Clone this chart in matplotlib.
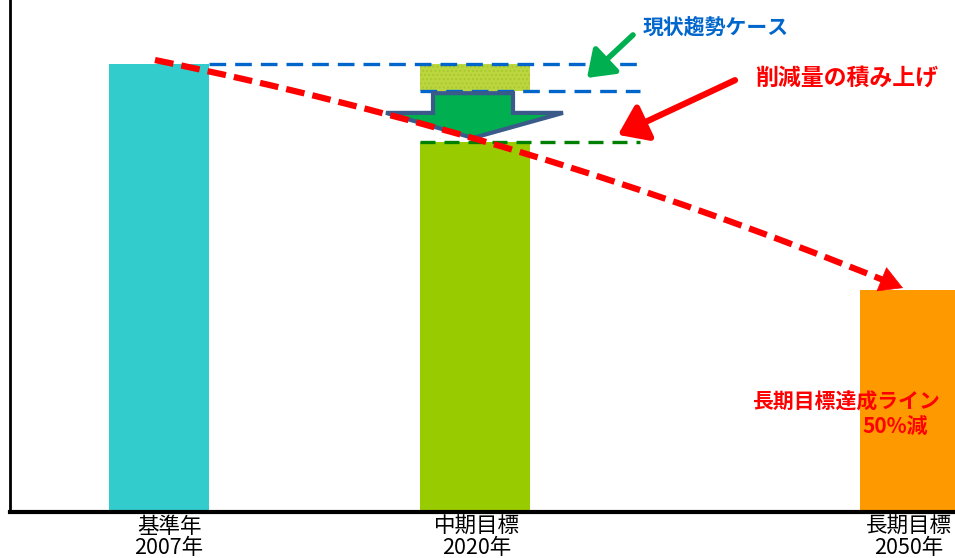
import matplotlib
matplotlib.use("Agg")
import matplotlib.pyplot as plt
from matplotlib.patches import Rectangle, Polygon, PathPatch
from matplotlib.path import Path

plt.rcParams['font.family'] = ['Noto Sans CJK JP', 'DejaVu Sans']

# ---- data ----
categories = ["基準年\n2007年", "中期目標\n2020年", "長期目標\n2050年"]
values = [100.0, 82.6, 49.6]          # emissions index (base = 100)
trend_high = 100.0                      # current-trend case band (top)
trend_low = 94.0                        # current-trend case band (bottom)
trajectory = [100.9, 79.5, 50.0]        # red dashed path: start, mid-bend, end

# ---- layout ----
x_pos = [1.49, 4.65, 9.05]
widths = [1.0, 1.1, 1.1]
colors = ["#33CCCC", "#99CC00", "#FF9900"]

fig = plt.figure(figsize=(9.55, 5.58), dpi=100)
ax = fig.add_axes([10/955, 46/558, 945/955, 512/558])
ax.set_xlim(0, 9.45)
ax.set_ylim(0, 114.3)

ax.bar(x_pos, values, width=widths, color=colors, zorder=2)

ax.set_xticks([1.59, 4.67, 8.99])
ax.set_xticklabels(categories, fontsize=15.5, linespacing=0.95)
ax.tick_params(axis='x', length=0, pad=3)
ax.set_yticks([])
for s in ['top', 'right']:
    ax.spines[s].set_visible(False)
ax.spines['left'].set_linewidth(2)
ax.spines['bottom'].set_linewidth(3)

# current-trend band (textured)
mid_x, mid_w = x_pos[1], widths[1]
band = Rectangle((mid_x - mid_w/2, trend_low), mid_w, trend_high - trend_low,
                 facecolor="#BCD640", edgecolor="#A9C92E", hatch="....",
                 linewidth=0, zorder=2)
ax.add_patch(band)

# dashed reference lines
blue = "#0066CC"
ax.plot([x_pos[0] + widths[0]/2, 6.30], [trend_high, trend_high], color=blue,
        lw=2.4, linestyle=(0, (5, 2.7)), zorder=3)
ax.plot([mid_x - mid_w/2, 6.30], [trend_low, trend_low], color=blue,
        lw=2.4, linestyle=(0, (5, 2.7)), zorder=3)
ax.plot([mid_x - mid_w/2, 6.30], [values[1], values[1]], color="#008000",
        lw=2.4, linestyle=(0, (4.5, 2.7)), zorder=3)

# block down arrow (reduction)
ax_c = 4.63
tip = values[1] + 0.9
head_base = tip + 5.6
top = trend_low - 0.5
arrow_pts = [(ax_c - 0.40, top), (ax_c + 0.40, top), (ax_c + 0.40, head_base),
             (ax_c + 0.90, head_base), (ax_c, tip), (ax_c - 0.87, head_base),
             (ax_c - 0.40, head_base)]
ax.add_patch(Polygon(arrow_pts, closed=True, facecolor="#00B050",
                     edgecolor="#3A5A8A", linewidth=3, zorder=4))

# red dashed trajectory curve (quadratic bezier)
S = (1.45, trajectory[0])
E = (8.93, trajectory[2])
M = (5.23, trajectory[1])
C = (2*M[0] - 0.5*(S[0] + E[0]), 2*M[1] - 0.5*(S[1] + E[1]))
t_end = 0.978
def bez(t):
    return ((1-t)**2*S[0] + 2*t*(1-t)*C[0] + t**2*E[0],
            (1-t)**2*S[1] + 2*t*(1-t)*C[1] + t**2*E[1])
C_sub = ((1-t_end)*S[0] + t_end*C[0], (1-t_end)*S[1] + t_end*C[1])
P_end = bez(t_end)
curve = Path([S, C_sub, P_end], [Path.MOVETO, Path.CURVE3, Path.CURVE3])
ax.add_patch(PathPatch(curve, fill=False, edgecolor="#FF0000", lw=4.5,
                       linestyle=(0, (3, 1.3)), zorder=5))
back = (E[0] - 0.05*(E[0] - C[0]), E[1] - 0.05*(E[1] - C[1]))
ax.annotate("", xy=E, xytext=back,
            arrowprops=dict(arrowstyle="-|>,head_length=0.8,head_width=0.45",
                            color="#FF0000", lw=0.5, mutation_scale=20,
                            shrinkA=0, shrinkB=0), zorder=5)

# callout arrows
ax.annotate("", xy=(5.77, 96.9), xytext=(6.23, 106.5),
            arrowprops=dict(arrowstyle="-|>,head_length=0.7,head_width=0.5",
                            color="#00B050", lw=4, mutation_scale=22,
                            shrinkA=0, shrinkB=0), zorder=6)
ax.annotate("", xy=(6.08, 84.2), xytext=(7.25, 96.4),
            arrowprops=dict(arrowstyle="-|>,head_length=0.7,head_width=0.5",
                            color="#FF0000", lw=4.5, mutation_scale=24,
                            shrinkA=0, shrinkB=0), zorder=6)

# texts
ax.text(6.33, 108.3, "現状趨勢ケース", color=blue, fontsize=15,
        fontweight='bold', ha='left', va='center', zorder=7)
ax.text(7.45, 96.9, "削減量の積み上げ", color="#FF0000", fontsize=16.5,
        fontweight='bold', ha='left', va='center', zorder=7)
ax.text(9.30, 24.6, "長期目標達成ライン", color="#FF0000", fontsize=15,
        fontweight='bold', ha='right', va='center', zorder=7)
ax.text(8.85, 19.2, "50%減", color="#FF0000", fontsize=15,
        fontweight='bold', ha='center', va='center', zorder=7)

fig.savefig("out.png", dpi=100)
